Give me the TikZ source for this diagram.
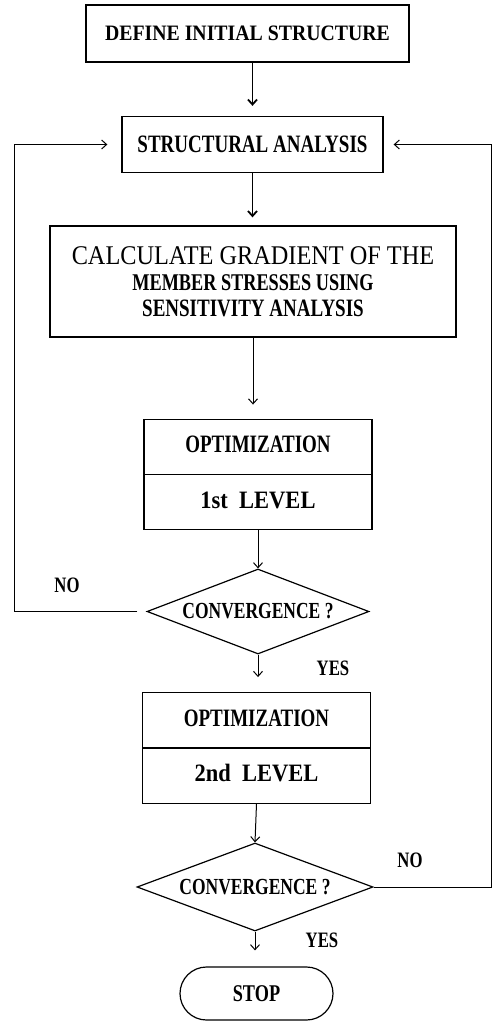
\documentclass[tikz,border=0pt]{standalone}
\usepackage{fontspec}
\setmainfont{Liberation Serif}
\newfontfamily\chartfont[FakeStretch=0.76]{Liberation Serif}
\newfontfamily\widefont[FakeStretch=0.9]{Liberation Serif}
\usepackage{tikz}
\usetikzlibrary{shapes.geometric,shapes.multipart,shapes.misc,arrows.meta}

\newcommand\partstrut{\rule[-21pt]{0pt}{54pt}}

\tikzset{
  box/.style={draw, line width=1.3pt, inner sep=0pt, align=center, font=\chartfont\bfseries\fontsize{25}{26}\selectfont},
  optbox/.style={box, rectangle split, rectangle split parts=2, minimum width=228pt},
  test/.style={draw, diamond, line width=1.2pt, aspect=2.6, inner sep=0pt, font=\chartfont\bfseries\fontsize{23}{24}\selectfont},
  flow/.style={-{Straight Barb[length=5pt,width=9pt]}, line width=1pt},
  answer/.style={font=\chartfont\bfseries\fontsize{22}{24}\selectfont}
}

\begin{document}
\begin{tikzpicture}[x=1pt, y=-1pt]
\useasboundingbox (0,0) rectangle (496,1022);

\node[box, minimum width=323pt, minimum height=57pt, font=\widefont\bfseries\fontsize{22}{26}\selectfont] (init) at (247.5,33.5) {DEFINE INITIAL STRUCTURE};
\node[box, minimum width=261pt, minimum height=56pt, font=\chartfont\bfseries\fontsize{25}{26}\selectfont] (analysis) at (252.5,144.5) {STRUCTURAL ANALYSIS};
\node[box, minimum width=406pt, minimum height=111pt] (gradient) at (253,281.5)
  {{\widefont\mdseries\fontsize{27}{26}\selectfont CALCULATE GRADIENT OF THE}\\
   {\chartfont\fontsize{24}{26}\selectfont MEMBER STRESSES USING}\\
   {\chartfont\fontsize{25}{26}\selectfont SENSITIVITY ANALYSIS}};
\node[optbox] (opt1) at (258,474.5) {\partstrut OPTIMIZATION \nodepart{two}\partstrut {\widefont 1st~~LEVEL}};
\node[test, minimum width=222pt, minimum height=85pt] (conv1) at (258,611.5) {CONVERGENCE ?};
\node[optbox] (opt2) at (256.5,748) {\partstrut OPTIMIZATION \nodepart{two}\partstrut {\widefont 2nd~~LEVEL}};
\node[test, minimum width=236pt, minimum height=88pt] (conv2) at (255,887) {CONVERGENCE ?};
\node[box, rounded rectangle, line width=1.2pt, minimum width=153pt, minimum height=53pt, font=\chartfont\bfseries\fontsize{24}{26}\selectfont] (stop) at (256.5,993.5) {STOP};

% answers
\node[answer] (no1) at (67,585) {NO};
\node[answer] (yes1) at (333,668) {YES};
\node[answer] (no2) at (410,860) {NO};
\node[answer] (yes2) at (322,940) {YES};

% rails of the two loops
\coordinate (lrail) at (14,0);
\coordinate (rrail) at (491,0);

% main flow
\draw[flow, line width=1.8pt, shorten >=10pt] (analysis.north |- init.south) -- (analysis.north);
\draw[flow, line width=1.8pt, shorten >=8pt] (analysis.south) -- (analysis.south |- gradient.north);
\draw[flow, shorten >=14pt] (gradient.south) -- (gradient.south |- opt1.north);
\draw[flow] (opt1.south) -- (conv1.north);
\draw[flow, shorten >=15pt] (conv1.south) -- (conv1.south |- opt2.north);
\draw[flow] (opt2.south) -- (conv2.north);
\draw[flow, shorten >=16pt] (conv2.south) -- (conv2.south |- stop.north);

% loops back
\draw[flow, shorten <=9pt, shorten >=14pt] (conv1.west) -- (conv1.west -| lrail) |- (analysis.west);
\draw[flow, shorten >=10pt] (conv2.east) -- (conv2.east -| rrail) |- (analysis.east);
\end{tikzpicture}
\end{document}
